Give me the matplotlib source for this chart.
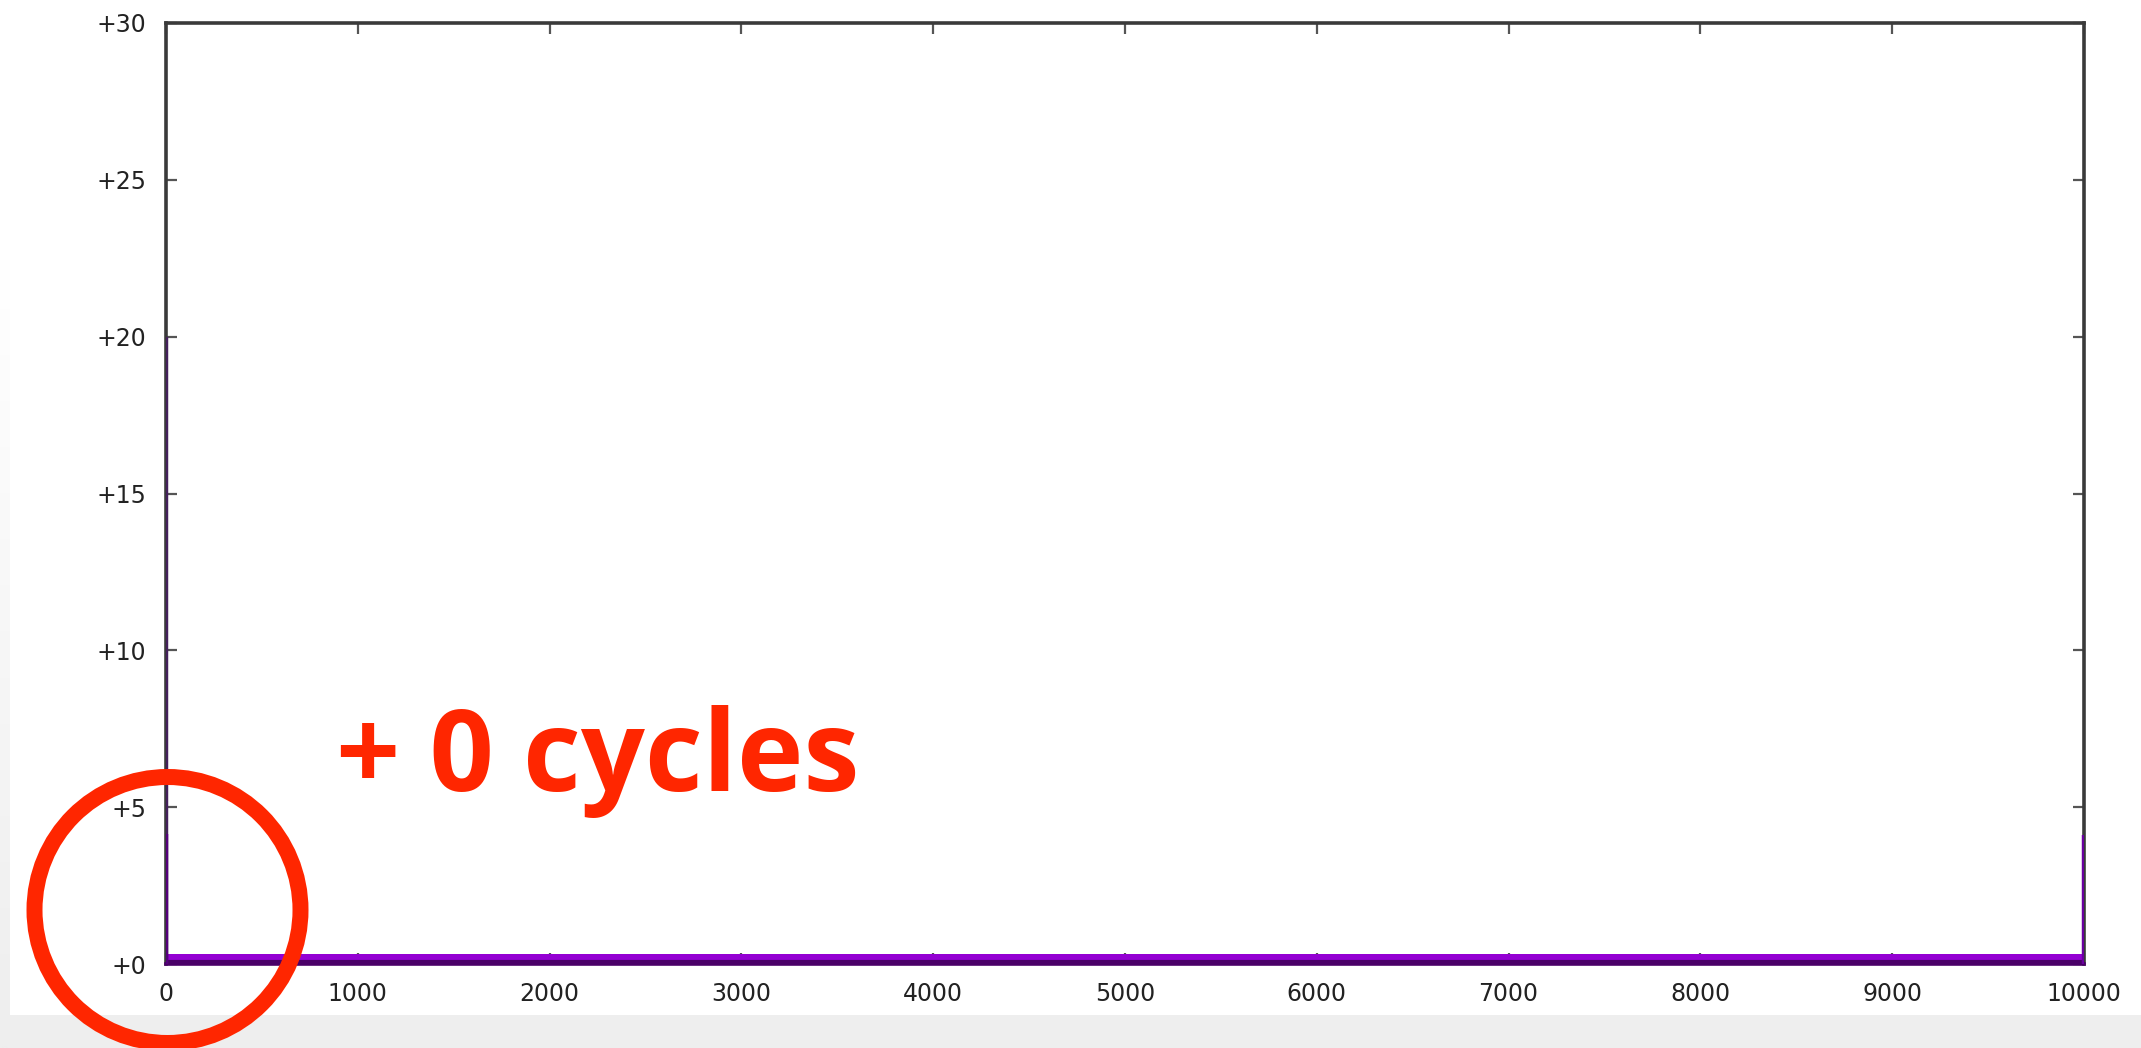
import numpy as np
import matplotlib
matplotlib.use("Agg")
import matplotlib.pyplot as plt
from matplotlib.patches import Rectangle, Circle

# ---- data ----
x_range = [0, 10000]
base_level = 0.31          # floor of the distribution
left_spike_outer = 20.0    # dark spike at x=0
left_spike_inner = 4.15    # lighter spike at x=0
right_spike = 4.1          # spike at x=10000
x_ticks = [0, 1000, 2000, 3000, 4000, 5000, 6000, 7000, 8000, 9000, 10000]
y_ticks = [0, 5, 10, 15, 20, 25, 30]
y_tick_labels = ["+0", "+5", "+10", "+15", "+20", "+25", "+30"]
annotation = "+ 0 cycles"

W, H = 2141, 1048
DPI = 100
fig = plt.figure(figsize=(W / DPI, H / DPI), dpi=DPI)
fig.patch.set_facecolor("#eeeeee")

# white panel with gradient left strip
bg = fig.add_axes([0, 0, 1, 1], zorder=-10)
bg.axis("off")
grad = np.linspace(0, 1, 256).reshape(-1, 1)
grad = np.clip((grad - 0.25) / 0.75, 0, 1)
col = 1 - grad * (1 - 0xee / 255)
img = np.dstack([col, col, col])
bg.imshow(img, extent=(0, 10, 1048, 0), aspect="auto", interpolation="bilinear")
bg.add_patch(Rectangle((10, 0), W - 10, 1015, facecolor="white", edgecolor="none"))
bg.set_xlim(0, W)
bg.set_ylim(H, 0)

ax = fig.add_axes([166 / W, (H - 964) / H, (2084 - 166) / W, (964 - 23) / H])
ax.set_facecolor("white")
ax.set_xlim(x_range[0], x_range[1])
ax.set_ylim(0, 30)

purple = "#9400d3"
dark = "#4a0068"
ax.fill_between(x_range, 0, base_level, color=purple, lw=0, zorder=3)
ax.plot(x_range, [0.07, 0.07], color=dark, lw=3, zorder=4, solid_capstyle="butt")
ax.vlines(x_range[0], 0, left_spike_outer, color="#44205c", lw=3.2, zorder=5)
ax.vlines(x_range[0], 0, left_spike_inner, color="#55007c", lw=3.2, zorder=6)
ax.vlines(x_range[1], 0, right_spike, color="#6a00a0", lw=3.2, zorder=6)

for s in ax.spines.values():
    s.set_color("#3a3a3a")
    s.set_linewidth(2.6)
ax.spines["bottom"].set_color(dark)

ax.set_xticks(x_ticks)
ax.set_xticklabels([str(v) for v in x_ticks])
ax.set_yticks(y_ticks)
ax.set_yticklabels(y_tick_labels)
ax.tick_params(axis="both", direction="in", length=8, width=1.6, color="#555555",
               labelsize=17, labelcolor="#222222", top=True, right=True)
ax.tick_params(axis="y", pad=14)
ax.tick_params(axis="x", pad=13)
for lab in ax.get_xticklabels() + ax.get_yticklabels():
    lab.set_family("DejaVu Sans")

# overlay annotation
ov = fig.add_axes([0, 0, 1, 1], zorder=20)
ov.set_xlim(0, W)
ov.set_ylim(H, 0)
ov.axis("off")
ov.patch.set_alpha(0)
ov.text(336, 791, annotation, color="#ff2600", fontsize=81, fontweight="bold",
        family=["Open Sans", "DejaVu Sans"], ha="left", va="baseline")
ov.add_patch(Circle((167.5, 910), 133, fill=False, edgecolor="#ff2600", lw=16 * 72 / DPI))

fig.savefig("out.png", dpi=DPI)
